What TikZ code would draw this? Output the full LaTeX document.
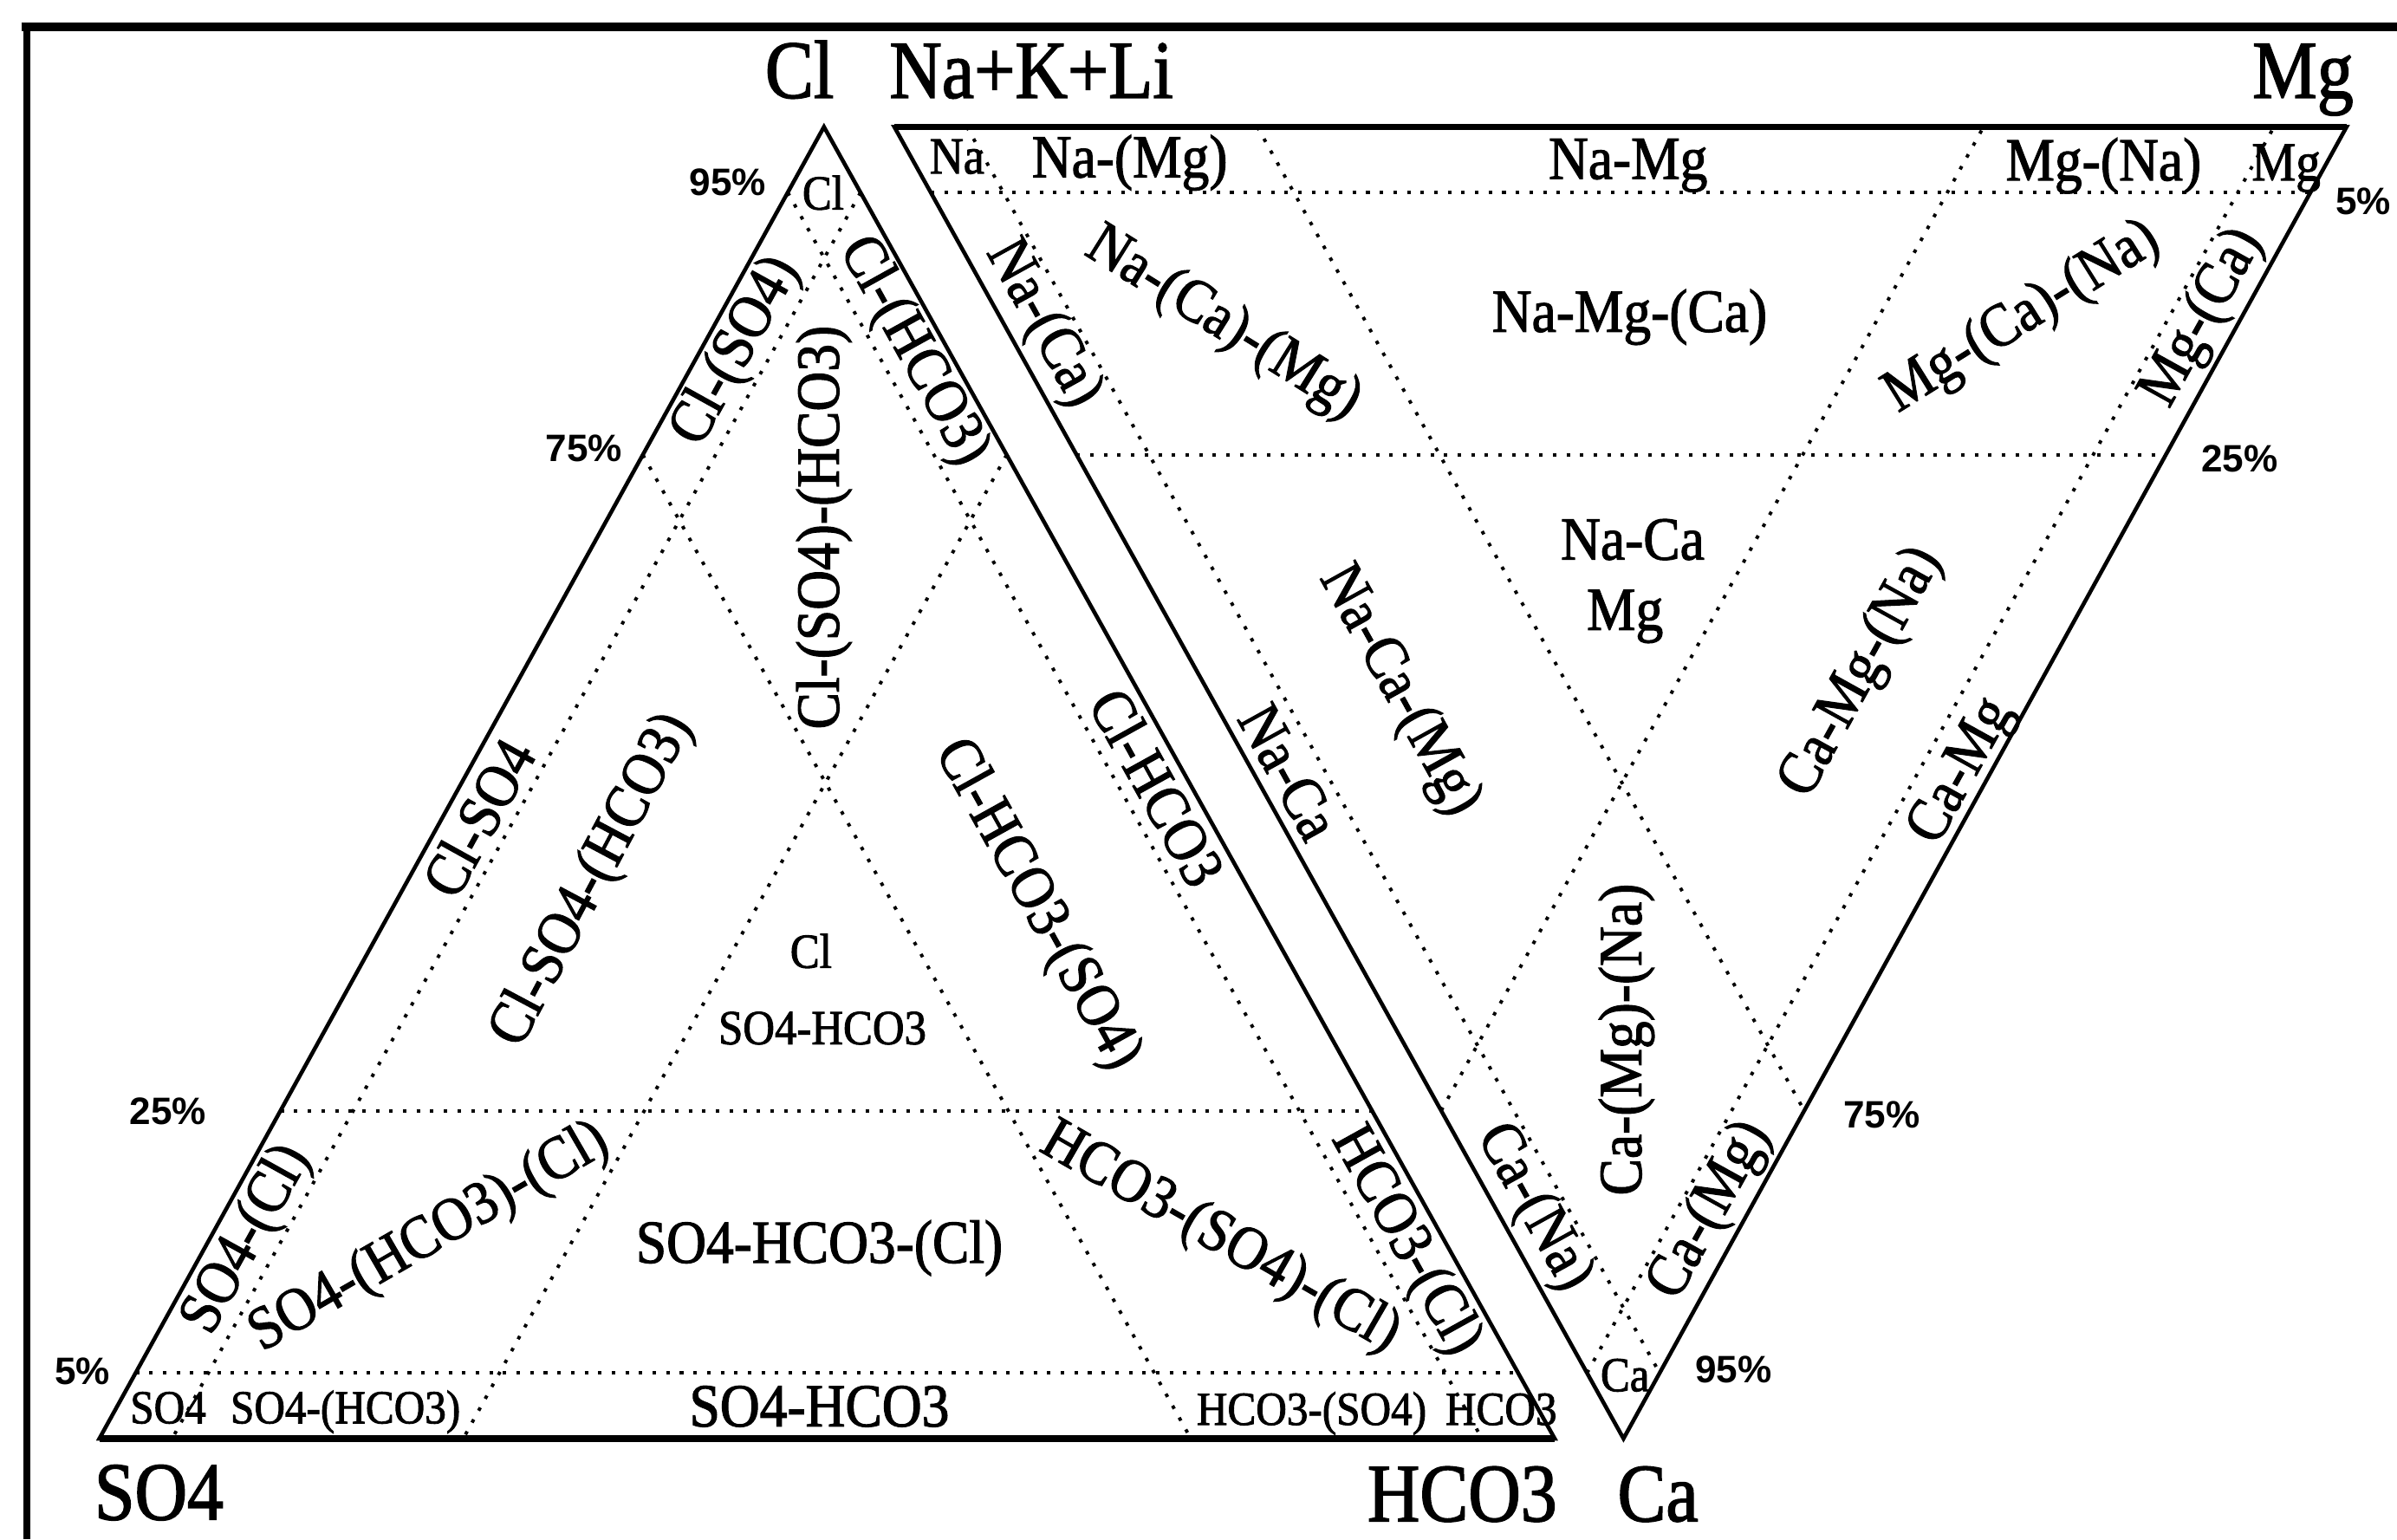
\documentclass[tikz,border=0pt]{standalone}
\usepackage{fontspec}
\setmainfont{Liberation Serif}
\newfontfamily\labfont{Liberation Serif}[FakeStretch=0.9,FakeBold=1.6]
\newfontfamily\bigfont{Liberation Serif}[FakeStretch=0.88,FakeBold=1.6]
\newfontfamily\pctfont{Liberation Sans}
\usetikzlibrary{calc}
\begin{document}
\begin{tikzpicture}[x=1pt,y=-1pt,
  fs/.style={inner sep=0pt,font=\labfont\fontsize{#1}{#1}\selectfont},
  lbl/.style={fs=40},
  sml/.style={fs=32},
  bigl/.style={inner sep=0pt,anchor=base,font=\bigfont\fontsize{54}{54}\selectfont},
  pct/.style={inner sep=0pt,font=\pctfont\bfseries\fontsize{25}{25}\selectfont},
  trside/.style={line width=2.6pt,line join=miter},
  heavy/.style={line width=4pt},
  frameline/.style={line width=6pt},
  dotl/.style={line width=2.2pt,dash pattern=on 2.3pt off 6.6pt}]
\useasboundingbox (0,0) rectangle (1568,1007);
% frame
\draw[frameline] (14,17.6) -- (1568,17.6);
\draw[line width=5pt] (17.6,14.6) -- (17.6,1007);
% vertices
\coordinate (S) at (65,941);
\coordinate (H) at (1017,941);
\coordinate (C) at (539,83);
\coordinate (N) at (585,83);
\coordinate (M) at (1535,83);
\coordinate (A) at (1062,941);
% dotted division lines
\foreach \t in {0.05,0.25} {
  \draw[dotl] ($(S)!\t!(C)$) -- ($(H)!\t!(C)$);
  \draw[dotl] ($(C)!\t!(S)$) -- ($(H)!\t!(S)$);
  \draw[dotl] ($(C)!\t!(H)$) -- ($(S)!\t!(H)$);
  \draw[dotl] ($(N)!\t!(A)$) -- ($(M)!\t!(A)$);
  \draw[dotl] ($(A)!\t!(N)$) -- ($(M)!\t!(N)$);
  \draw[dotl] ($(N)!\t!(M)$) -- ($(A)!\t!(M)$);
}
% triangles
\draw[trside] (S) -- (C) -- (H) -- cycle;
\draw[heavy] (S) -- (H);
\draw[trside] (N) -- (M) -- (A) -- cycle;
\draw[heavy] (N) -- (M);
% corner labels
\node[bigl] (vCl) at (523,64) {Cl};
\node[bigl] (vNa) at (674.6,64) {Na+K+Li};
\node[bigl] (vMg) at (1506.5,64) {Mg};
\node[bigl] (vS) at (104,994) {SO4};
\node[bigl] (vH) at (956.5,995) {HCO3};
\node[bigl] (vCa) at (1084.5,995) {Ca};
% percent labels
\node[pct] (p95l) at (476,119.5) {95\%};
\node[pct] (p75l) at (382,293) {75\%};
\node[pct] (p25l) at (110,727) {25\%};
\node[pct] (p5l) at (54,897) {5\%};
\node[pct] (p5r) at (1546,132) {5\%};
\node[pct] (p25r) at (1465,300) {25\%};
\node[pct] (p75r) at (1231,729) {75\%};
\node[pct] (p95r) at (1134,896) {95\%};
% left triangle labels
\node[sml,anchor=base] (tCl) at (538.5,137) {Cl};
\node[lbl,rotate=61] (tClS) at (482,230) {Cl-(SO4)};
\node[lbl,rotate=-61] (tClH) at (597,230) {Cl-(HCO3)};
\node[lbl,rotate=90] (tClSH) at (539,345) {Cl-(SO4)-(HCO3)};
\node[lbl,rotate=61] (tClSO) at (313,535) {Cl-SO4};
\node[lbl,rotate=62] (tClSOH) at (388,576) {Cl-SO4-(HCO3)};
\node[lbl,rotate=-61] (tClHS) at (678,592) {Cl-HCO3-(SO4)};
\node[lbl,rotate=-61] (tClHC) at (757,515) {Cl-HCO3};
\node[sml,anchor=base] (tCc) at (530.5,633) {Cl};
\node[sml,anchor=base] (tSHc) at (538,683) {SO4-HCO3};
\node[lbl,rotate=61] (tSCl) at (162,811) {SO4-(Cl)};
\node[lbl,rotate=30] (tSHCl) at (281,810) {SO4-(HCO3)-(Cl)};
\node[lbl,anchor=base] (tSHm) at (536,826) {SO4-HCO3-(Cl)};
\node[lbl,rotate=-30] (tHSCl) at (798,810) {HCO3-(SO4)-(Cl)};
\node[lbl,rotate=-61] (tHCl) at (919,812) {HCO3-(Cl)};
\node[fs=31,anchor=base] (bS) at (110,931) {SO4};
\node[fs=31,anchor=base] (bSH) at (226,931) {SO4-(HCO3)};
\node[lbl,anchor=base] (bSHH) at (536,933) {SO4-HCO3};
\node[fs=31,anchor=base] (bHS) at (858,932) {HCO3-(SO4)};
\node[fs=31,anchor=base] (bH) at (982,932) {HCO3};
% right triangle labels
\node[fs=34,anchor=base] (rNa) at (626,113.5) {Na};
\node[lbl,anchor=base] (rNaMg1) at (739,116) {Na-(Mg)};
\node[lbl,anchor=base] (rNaMg) at (1065,117) {Na-Mg};
\node[lbl,anchor=base] (rMgNa) at (1376,118) {Mg-(Na)};
\node[fs=36,anchor=base] (rMg) at (1495.5,118) {Mg};
\node[lbl,rotate=-61] (rNaCa1) at (682,212) {Na-(Ca)};
\node[lbl,rotate=-32] (rNaCaMg) at (800,212) {Na-(Ca)-(Mg)};
\node[lbl,anchor=base] (rNaMgCa) at (1066,217) {Na-Mg-(Ca)};
\node[lbl,rotate=32] (rMgCaNa) at (1323,208) {Mg-(Ca)-(Na)};
\node[lbl,rotate=61] (rMgCa) at (1441,208) {Mg-(Ca)};
\node[lbl,rotate=-61] (rNaCa) at (843,505) {Na-Ca};
\node[lbl,rotate=-61] (rNaCaMg2) at (915,452) {Na-Ca-(Mg)};
\node[lbl,anchor=base] (rc1) at (1068,366) {Na-Ca};
\node[lbl,anchor=base] (rc2) at (1063,412) {Mg};
\node[lbl,rotate=61] (rCaMgNa) at (1218,440) {Ca-Mg-(Na)};
\node[lbl,rotate=61] (rCaMg) at (1284,505) {Ca-Mg};
\node[lbl,rotate=90] (rCaMgNa2) at (1064,680) {Ca-(Mg)-(Na)};
\node[lbl,rotate=-61] (rCaNa) at (1003,790) {Ca-(Na)};
\node[lbl,rotate=61] (rCaMg2) at (1119,792) {Ca-(Mg)};
\node[sml,anchor=base] (rCa) at (1063,910) {Ca};
\end{tikzpicture}
\end{document}
